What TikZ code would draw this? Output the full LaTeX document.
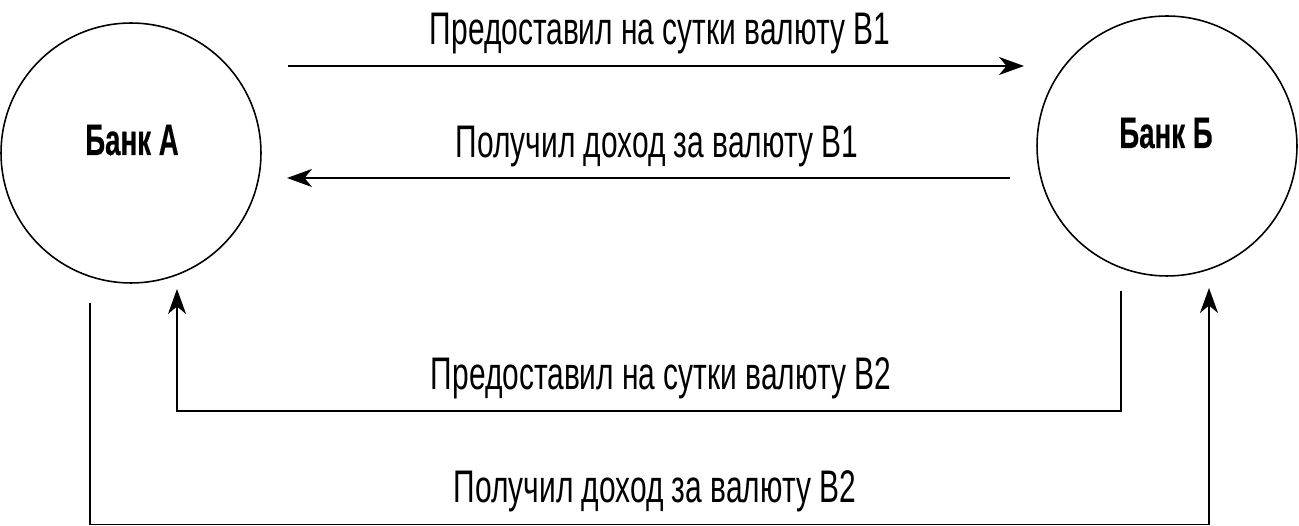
\documentclass[tikz,border=0pt]{standalone}
\usepackage{fontspec}
\newfontfamily\condfont{Liberation Sans}[FakeStretch=0.655]
\newfontfamily\condboldfont{Liberation Sans}[FakeStretch=0.63, FakeBold=0.3]
\usepackage{tikz}
\usetikzlibrary{arrows.meta, positioning}

\begin{document}
\begin{tikzpicture}[
    x=0.02cm, y=-0.02cm,
    bank/.style={draw=black, circle, line width=0.9pt, minimum size=5.2cm, inner sep=0pt},
    bankname/.style={anchor=base, inner sep=0pt, font=\condboldfont\bfseries\fontsize{25}{29}\selectfont},
    flow/.style={black, line width=1.1pt, -{Stealth[length=5mm, width=3.6mm, inset=1.5mm]}},
    flowtext/.style={anchor=base, inner sep=0pt, font=\condfont\fontsize{26}{31}\selectfont}
    ]
    \useasboundingbox (0, 0) rectangle (1299, 526);

    % Banks
    \node[bank] (bankA) at (131, 153) {};
    \node[bank] (bankB) at (1167, 146) {};
    \node[bankname] (nameA) at (132, 155) {Банк А};
    \node[bankname] (nameB) at (1166, 148) {Банк Б};

    % Ends of the flows
    \coordinate (outA1) at (288, 66);
    \coordinate (inB1) at (1024, 66);
    \coordinate (outB1) at (1010, 178);
    \coordinate (inA1) at (287, 178);
    \coordinate (outB2) at (1121, 291);
    \coordinate (inA2) at (177, 289);
    \coordinate (outA2) at (90, 303);
    \coordinate (inB2) at (1209, 288);

    % Currency B1
    \draw[flow] (outA1) -- (inB1);
    \draw[flow] (outB1) -- (inA1);

    % Currency B2
    \draw[flow] (outB2) -- (1121, 411) -- (177, 411) -- (inA2);
    \draw[flow] (outA2) -- (90, 524.5) -- (1209, 524.5) -- (inB2);

    % Labels
    \node[flowtext] (textA1) at (660, 45) {Предоставил на сутки валюту B1};
    \node[flowtext] (textB1) at (657, 158) {Получил доход за валюту B1};
    \node[flowtext] (textB2) at (661, 390) {Предоставил на сутки валюту B2};
    \node[flowtext] (textA2) at (655, 503) {Получил доход за валюту B2};
\end{tikzpicture}
\end{document}
